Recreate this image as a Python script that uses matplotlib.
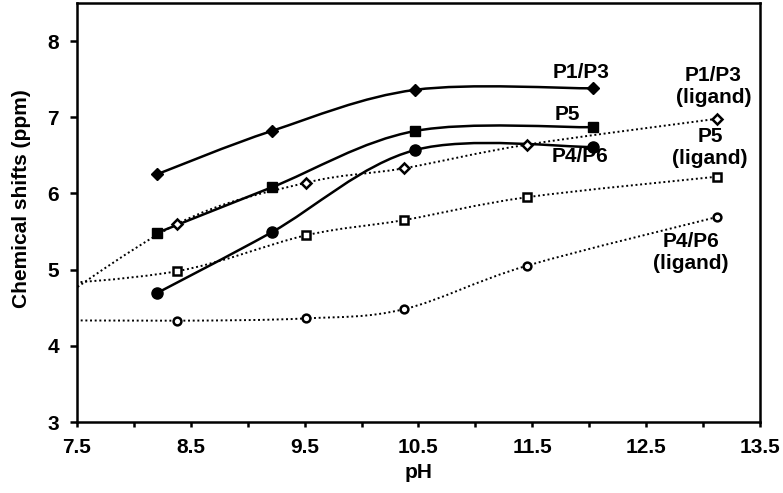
import numpy as np
import matplotlib
matplotlib.use('Agg')
from matplotlib import pyplot as plt
from matplotlib.path import Path
from matplotlib import patches as patches

plt.rcParams['font.family'] = ['Liberation Sans', 'DejaVu Sans']
plt.rcParams['font.weight'] = 'bold'

# complexes (solid lines)
ph_complex = [8.20, 9.21, 10.47, 12.03]
p13 = [6.25, 6.82, 7.36, 7.38]
p5 = [5.48, 6.08, 6.82, 6.87]
p46 = [4.69, 5.49, 6.57, 6.61]

# free ligand (dotted lines); first point lies left of the axis window
ph_ligand = [7.0, 8.38, 9.51, 10.37, 11.45, 13.12]
p13_lig = [4.25, 5.60, 6.14, 6.33, 6.64, 6.98]
p5_lig = [4.77, 4.98, 5.45, 5.65, 5.95, 6.22]
p46_lig = [4.34, 4.33, 4.36, 4.48, 5.05, 5.69]


def smooth_path(xs, ys):
    '''bezier path through the points, like a spreadsheet smoothed line'''
    P = np.column_stack([xs, ys])
    n = len(P)
    verts = [P[0]]
    codes = [Path.MOVETO]
    for i in range(n - 1):
        p0 = P[i - 1] if i > 0 else P[i]
        p3 = P[i + 2] if i + 2 < n else P[i + 1]
        c1 = P[i] + (P[i + 1] - p0) / 6.
        c2 = P[i + 1] - (p3 - P[i]) / 6.
        verts += [c1, c2, P[i + 1]]
        codes += [Path.CURVE4] * 3
    return Path(verts, codes)


fig = plt.figure(figsize=(7.83, 4.93), dpi=100)
ax = fig.add_axes([0.0983, 0.144, 0.8723, 0.8499])

dots = (0, (1, 1.4))
series = [
    (ph_complex, p13, 'D', 'k', '-', 6.3, 1.0),
    (ph_complex, p5, 's', 'k', '-', 7.0, 1.0),
    (ph_complex, p46, 'o', 'k', '-', 8.0, 1.0),
    (ph_ligand, p13_lig, 'D', 'w', dots, 4.6, 1.8),
    (ph_ligand, p5_lig, 's', 'w', dots, 5.6, 1.8),
    (ph_ligand, p46_lig, 'o', 'w', dots, 5.6, 1.8),
]
for xs, ys, mk, fc, ls, ms, mew in series:
    lw = 1.8 if ls == '-' else 1.4
    ax.add_patch(patches.PathPatch(smooth_path(xs, ys), fill=False,
                                   ec='k', lw=lw, ls=ls, zorder=2))
    ax.plot(xs, ys, ls='none', marker=mk, ms=ms, mfc=fc, mec='k',
            mew=mew, zorder=3)

lab = dict(fontsize=15, fontweight='bold', ha='center', va='center',
           linespacing=1.2)
ax.text(11.93, 7.59, 'P1/P3', **lab)
ax.text(11.81, 7.03, 'P5', **lab)
ax.text(11.92, 6.48, 'P4/P6', **lab)
ax.text(13.09, 7.41, 'P1/P3\n(ligand)', **lab)
ax.text(13.06, 6.60, 'P5\n(ligand)', **lab)
ax.text(12.89, 5.22, 'P4/P6\n(ligand)', **lab)

ax.set_xlim(7.5, 13.5)
ax.set_ylim(3, 8.5)
ax.set_xticks(np.arange(7.5, 13.6, 1.0))
ax.set_xticks(np.arange(8.0, 13.1, 1.0), minor=True)
ax.set_yticks([3, 4, 5, 6, 7, 8])
ax.tick_params(which='both', direction='out', width=1.8, labelsize=15)
ax.tick_params(axis='x', which='both', length=3.6, pad=8)
ax.tick_params(axis='y', length=5, pad=8)
for s in ax.spines.values():
    s.set_linewidth(1.8)
ax.set_xlabel('pH', fontsize=15, fontweight='bold')
ax.set_ylabel('Chemical shifts (ppm)', fontsize=15, fontweight='bold')
ax.xaxis.set_label_coords(0.4995, -0.097)
ax.yaxis.set_label_coords(-0.068, 0.532)

fig.savefig('out.png', dpi=100)
